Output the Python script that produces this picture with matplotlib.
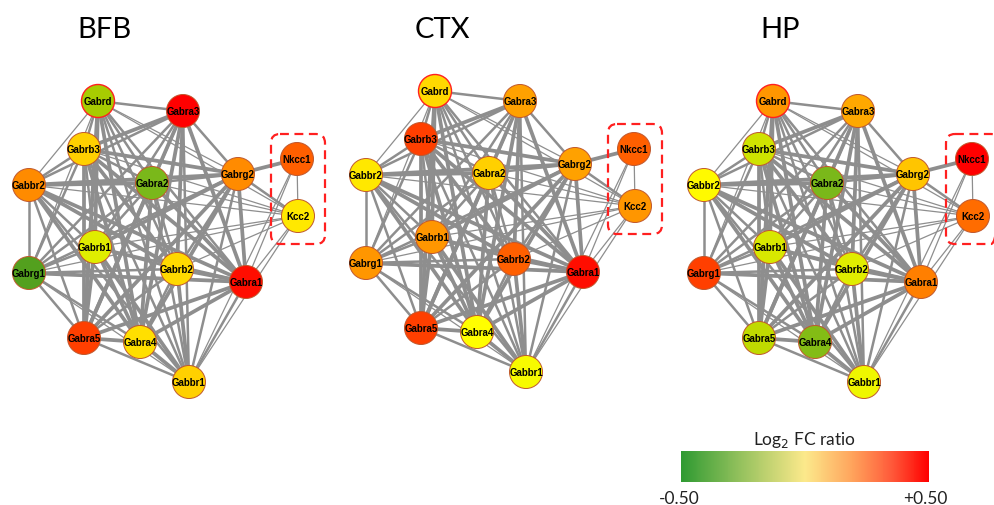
import numpy as np
import matplotlib
matplotlib.use("Agg")
import matplotlib.pyplot as plt
from matplotlib.patches import Circle, FancyBboxPatch
from matplotlib.colors import LinearSegmentedColormap, Normalize
from matplotlib.cm import ScalarMappable

# regions and genes
regions = ["BFB", "CTX", "HP"]
genes = ["Gabrd", "Gabra3", "Gabrb3", "Nkcc1", "Gabrg2", "Gabbr2", "Gabra2", "Kcc2",
         "Gabrb1", "Gabrg1", "Gabrb2", "Gabra1", "Gabra5", "Gabra4", "Gabbr1"]

fc_bfb = [-0.20, 0.50, 0.10, 0.33, 0.22, 0.22, -0.30, 0.05,
          -0.08, -0.42, 0.08, 0.48, 0.40, 0.07, 0.10]
fc_ctx = [0.08, 0.18, 0.40, 0.33, 0.18, 0.05, 0.10, 0.20,
          0.20, 0.20, 0.33, 0.48, 0.40, 0.00, -0.02]
fc_hp = [0.20, 0.17, -0.12, 0.50, 0.12, 0.01, -0.30, 0.30,
         -0.10, 0.40, -0.08, 0.25, -0.15, -0.28, -0.04]

# network layout (same for each region, pixel units)
layout = {
    "Gabrd": (98, 102), "Gabra3": (183, 112), "Gabrb3": (84, 150),
    "Nkcc1": (297, 160), "Gabrg2": (238, 175), "Gabbr2": (29, 186),
    "Gabra2": (152, 184), "Kcc2": (298, 217), "Gabrb1": (95, 248),
    "Gabrg1": (29, 274), "Gabrb2": (177, 270), "Gabra1": (246, 283),
    "Gabra5": (84, 339), "Gabra4": (140, 343), "Gabbr1": (189, 383),
}
panel_shift = [(0, 0), (337, -10), (675, 0)]

# edges: (gene a, gene b, strength 1-3)
edges = [
    ("Gabrd", "Gabra3", 2), ("Gabrd", "Gabrb3", 2), ("Gabrd", "Gabrg2", 1),
    ("Gabrd", "Gabbr2", 1), ("Gabrd", "Gabra2", 2), ("Gabrd", "Gabrb1", 3),
    ("Gabrd", "Gabrg1", 1), ("Gabrd", "Gabrb2", 2), ("Gabrd", "Gabra1", 2),
    ("Gabrd", "Gabra5", 3), ("Gabrd", "Gabra4", 3), ("Gabrd", "Gabbr1", 2),
    ("Gabra3", "Gabrb3", 3), ("Gabra3", "Gabrg2", 2), ("Gabra3", "Gabbr2", 2),
    ("Gabra3", "Gabra2", 2), ("Gabra3", "Gabrb1", 2), ("Gabra3", "Gabrg1", 2),
    ("Gabra3", "Gabrb2", 3), ("Gabra3", "Gabra1", 3), ("Gabra3", "Gabra5", 3),
    ("Gabra3", "Gabra4", 3), ("Gabra3", "Gabbr1", 2),
    ("Gabrb3", "Gabrg2", 3), ("Gabrb3", "Gabbr2", 2), ("Gabrb3", "Gabra2", 2),
    ("Gabrb3", "Gabrb1", 2), ("Gabrb3", "Gabrg1", 2), ("Gabrb3", "Gabrb2", 3),
    ("Gabrb3", "Gabra1", 3), ("Gabrb3", "Gabra5", 3), ("Gabrb3", "Gabra4", 3),
    ("Gabrb3", "Gabbr1", 2),
    ("Gabrg2", "Gabbr2", 3), ("Gabrg2", "Gabra2", 2), ("Gabrg2", "Gabrb1", 3),
    ("Gabrg2", "Gabrg1", 2), ("Gabrg2", "Gabrb2", 2), ("Gabrg2", "Gabra1", 3),
    ("Gabrg2", "Gabra5", 3), ("Gabrg2", "Gabra4", 3), ("Gabrg2", "Gabbr1", 2),
    ("Gabbr2", "Gabra2", 3), ("Gabbr2", "Gabrb1", 2), ("Gabbr2", "Gabrg1", 2),
    ("Gabbr2", "Gabrb2", 3), ("Gabbr2", "Gabra1", 3), ("Gabbr2", "Gabra5", 2),
    ("Gabbr2", "Gabra4", 3), ("Gabbr2", "Gabbr1", 2),
    ("Gabra2", "Gabrb1", 2), ("Gabra2", "Gabrg1", 2), ("Gabra2", "Gabrb2", 2),
    ("Gabra2", "Gabra1", 3), ("Gabra2", "Gabra5", 3), ("Gabra2", "Gabra4", 3),
    ("Gabra2", "Gabbr1", 2),
    ("Gabrb1", "Gabrg1", 2), ("Gabrb1", "Gabrb2", 2), ("Gabrb1", "Gabra1", 2),
    ("Gabrb1", "Gabra5", 3), ("Gabrb1", "Gabra4", 3), ("Gabrb1", "Gabbr1", 3),
    ("Gabrg1", "Gabrb2", 2), ("Gabrg1", "Gabra1", 3), ("Gabrg1", "Gabra5", 2),
    ("Gabrg1", "Gabra4", 2), ("Gabrg1", "Gabbr1", 1),
    ("Gabrb2", "Gabra1", 3), ("Gabrb2", "Gabra5", 2), ("Gabrb2", "Gabra4", 2),
    ("Gabrb2", "Gabbr1", 3),
    ("Gabra1", "Gabra5", 3), ("Gabra1", "Gabra4", 3), ("Gabra1", "Gabbr1", 2),
    ("Gabra5", "Gabra4", 3), ("Gabra5", "Gabbr1", 2), ("Gabra4", "Gabbr1", 3),
    ("Nkcc1", "Gabrg2", 3), ("Nkcc1", "Kcc2", 1), ("Nkcc1", "Gabra1", 1),
    ("Nkcc1", "Gabbr1", 1),
    ("Kcc2", "Gabrg2", 2), ("Kcc2", "Gabra1", 1), ("Kcc2", "Gabbr1", 1),
    ("Kcc2", "Gabrb1", 1), ("Kcc2", "Gabrg1", 1), ("Kcc2", "Gabra2", 1),
    ("Kcc2", "Gabrb3", 1), ("Kcc2", "Gabbr2", 1), ("Kcc2", "Gabrd", 1),
    ("Kcc2", "Gabrb2", 1),
]
edge_width = {1: 0.9, 2: 1.8, 3: 2.7}

node_cmap = LinearSegmentedColormap.from_list("node", [
    (0.0, "#3A9020"), (0.2, "#7AB81A"), (0.3, "#A8CC00"), (0.4, "#D8E800"),
    (0.5, "#FFFF00"), (0.6, "#FFD000"), (0.72, "#FF8C00"), (0.83, "#FF6000"),
    (0.9, "#FF4000"), (1.0, "#FF0000")])
bar_cmap = LinearSegmentedColormap.from_list("bar", [
    (0.0, "#2F9A32"), (0.25, "#99C35F"), (0.5, "#FCE98B"), (0.7, "#FFA05A"),
    (0.85, "#FF5A3A"), (1.0, "#FF0000")])
norm = Normalize(-0.5, 0.5)

fig = plt.figure(figsize=(9.94, 5.06), dpi=100)
ax = fig.add_axes([0, 0, 1, 1])
ax.set_xlim(0, 994)
ax.set_ylim(506, 0)
ax.axis("off")

r = 16.5
for region, fc, (dx, dy) in zip(regions, [fc_bfb, fc_ctx, fc_hp], panel_shift):
    pos = {g: (x + dx, y + dy) for g, (x, y) in layout.items()}
    for a, b, w in edges:
        ax.plot([pos[a][0], pos[b][0]], [pos[a][1], pos[b][1]],
                color="#8E8E8E", lw=edge_width[w], solid_capstyle="butt", zorder=1)
    for g, v in zip(genes, fc):
        x, y = pos[g]
        ec = "#FF2020" if g == "Gabrd" else "#C0582E"
        ax.add_patch(Circle((x, y), r, facecolor=node_cmap(norm(v)), edgecolor=ec,
                            lw=1.0 if g == "Gabrd" else 0.7, zorder=3))
        ax.text(x, y, g, ha="center", va="center", fontsize=7, fontweight="bold",
                family="Liberation Sans", color="black", zorder=4)
    # dashed box around the chloride transporters
    bx = pos["Nkcc1"][0] - 26
    by = pos["Nkcc1"][1] - 25
    ax.add_patch(FancyBboxPatch((bx, by), 54, 110,
                                boxstyle="round,pad=0,rounding_size=9",
                                fill=False, edgecolor="#FF2020", lw=1.6,
                                ls=(0, (4, 2.5)), zorder=5))
    ax.text(105 + dx, 30, region, ha="center", va="center", fontsize=21,
            family="Lato", color="black")

# colour scale
cax = fig.add_axes([681 / 994, 1 - 483 / 506, 248 / 994, 31 / 506])
cb = fig.colorbar(ScalarMappable(norm=norm, cmap=bar_cmap), cax=cax,
                  orientation="horizontal")
cb.set_ticks([])
cb.outline.set_visible(False)
ax.text(805, 440, r"Log$_2$ FC ratio", ha="center", va="center", fontsize=12.5,
        family="Lato", color="#222222")
ax.text(679, 499, "-0.50", ha="center", va="center", fontsize=12.5,
        family="Lato", color="#222222")
ax.text(925, 499, "+0.50", ha="center", va="center", fontsize=12.5,
        family="Lato", color="#222222")

fig.savefig("out.png", dpi=100)
